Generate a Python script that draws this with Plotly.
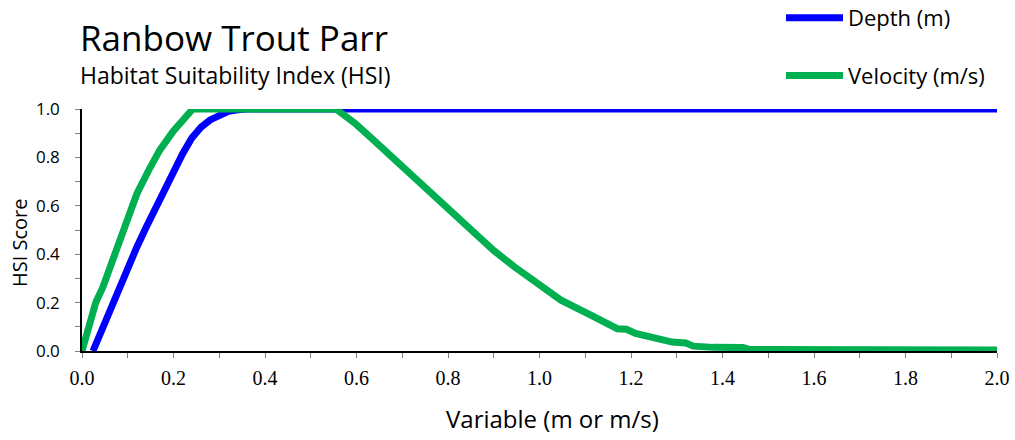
import plotly.graph_objects as go

# Habitat suitability curves for rainbow trout parr
depth_x = [0.024, 0.05, 0.07, 0.10, 0.12, 0.14, 0.16, 0.18, 0.20, 0.22, 0.24,
           0.26, 0.28, 0.30, 0.32, 0.34, 0.36, 2.0]
depth_hsi = [0.0, 0.12, 0.21, 0.345, 0.43, 0.51, 0.59, 0.665, 0.745, 0.815, 0.88,
             0.925, 0.955, 0.975, 0.99, 0.997, 1.0, 1.0]

velocity_x = [0.0, 0.017, 0.03, 0.046, 0.07, 0.097, 0.12, 0.148, 0.17, 0.199, 0.22,
              0.242, 0.555, 0.597, 0.641, 0.684, 0.735, 0.778, 0.822, 0.865, 0.90,
              0.945, 0.996, 1.047, 1.11, 1.17, 1.19, 1.21, 1.242, 1.29, 1.32, 1.336,
              1.38, 1.445, 1.46, 2.0]
velocity_hsi = [0.0, 0.115, 0.2, 0.266, 0.395, 0.54, 0.65, 0.755, 0.83, 0.907, 0.95,
                1.0, 1.0, 0.94, 0.865, 0.789, 0.707, 0.624, 0.548, 0.472, 0.415,
                0.348, 0.282, 0.21, 0.15, 0.092, 0.09, 0.073, 0.058, 0.037, 0.033, 0.02,
                0.015, 0.014, 0.006, 0.004]

x_ticks = [0.0, 0.2, 0.4, 0.6, 0.8, 1.0, 1.2, 1.4, 1.6, 1.8, 2.0]
y_ticks = [0.0, 0.2, 0.4, 0.6, 0.8, 1.0]

SANS = "Open Sans"
SERIF = "Liberation Serif"

fig = go.Figure()
fig.add_trace(go.Scatter(
    x=depth_x, y=depth_hsi, mode="lines", name="Depth (m)",
    legendgroup="depth",
    line=dict(color="#0000FF", width=7),
))
fig.add_trace(go.Scatter(
    x=velocity_x, y=velocity_hsi, mode="lines", name="Velocity (m/s)",
    legendgroup="velocity",
    line=dict(color="#00B050", width=7),
))

fig.update_layout(
    width=1015, height=440,
    margin=dict(l=82, r=18, t=109, b=89, autoexpand=False),
    paper_bgcolor="white", plot_bgcolor="white",
    showlegend=True,
    legend=dict(
        x=(781 - 82) / 915, xanchor="left",
        y=(351 + 3) / 242, yref="paper", yanchor="top",
        traceorder="grouped", tracegroupgap=26,
        itemwidth=57,
        font=dict(family=SANS, size=22, color="black"),
        bgcolor="rgba(0,0,0,0)",
    ),
    annotations=[
        dict(text="Ranbow Trout Parr", xref="paper", yref="paper",
             x=-4 / 915, y=(351 - 37) / 242, xanchor="left", yanchor="middle",
             showarrow=False, font=dict(family=SANS, size=35, color="black")),
        dict(text="Habitat Suitability Index (HSI)", xref="paper", yref="paper",
             x=-4 / 915, y=(351 - 75) / 242, xanchor="left", yanchor="middle",
             showarrow=False, font=dict(family=SANS, size=23, color="black")),
        dict(text="Variable (m or m/s)", xref="paper", yref="paper",
             x=(552 - 82) / 915, y=(351 - 418) / 242, xanchor="center", yanchor="middle",
             showarrow=False, font=dict(family=SANS, size=24, color="black")),
        dict(text="HSI Score", xref="paper", yref="paper", textangle=-90,
             x=(20 - 82) / 915, y=(351 - 243) / 242, xanchor="center", yanchor="middle",
             showarrow=False, font=dict(family=SANS, size=20, color="black")),
    ],
)

fig.update_xaxes(
    range=[0, 2.0], tickvals=x_ticks, ticktext=[f"{v:.1f}" for v in x_ticks],
    ticks="outside", ticklen=5, tickcolor="#808080", tickwidth=1,
    minor=dict(dtick=0.1, ticks="outside", ticklen=5, tickcolor="#808080", tickwidth=1),
    showline=True, linecolor="black", linewidth=1.5,
    showgrid=False, zeroline=False,
    tickfont=dict(family=SERIF, size=20, color="black"),
    ticklabelstandoff=3,
)
fig.update_yaxes(
    range=[0, 1.0], tickvals=y_ticks, ticktext=[f"{v:.1f}" for v in y_ticks],
    ticks="outside", ticklen=5, tickcolor="#808080", tickwidth=1,
    minor=dict(dtick=0.1, ticks="outside", ticklen=5, tickcolor="#808080", tickwidth=1),
    showline=True, linecolor="black", linewidth=1.5,
    showgrid=False, zeroline=False,
    tickfont=dict(family=SANS, size=17, color="black"),
    ticklabelstandoff=12,
)

fig.write_html("out.html")
